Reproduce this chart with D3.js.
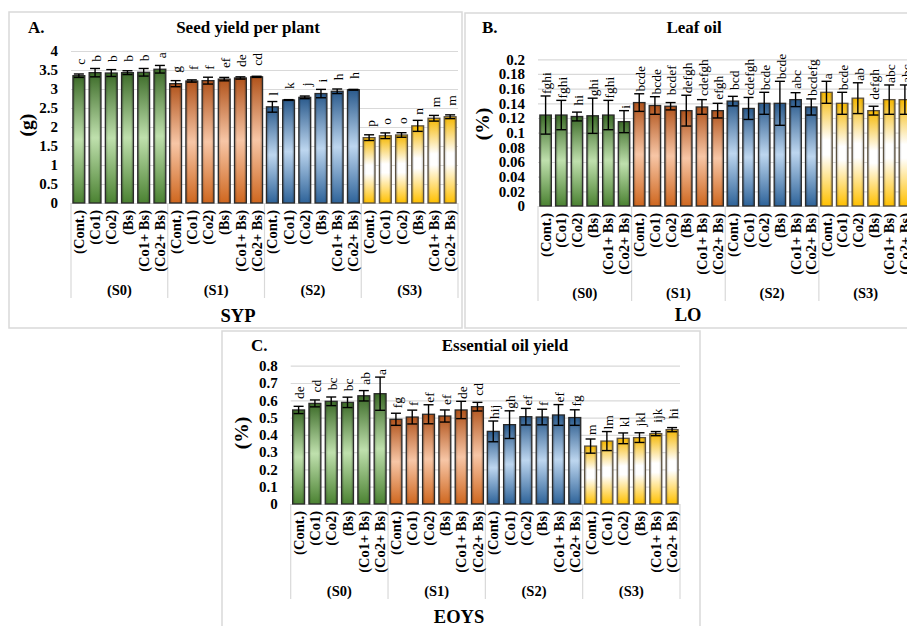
<!DOCTYPE html>
<html>
<head>
<meta charset="utf-8">
<script src="https://cdn.jsdelivr.net/npm/d3@7"></script>
<style>
  html, body { margin: 0; padding: 0; background: #fff; }
  svg { display: block; }
</style>
</head>
<body>
<svg id="chart" width="907" height="626"></svg>
<script>
// ---------------- DATA ----------------
const treatments = ["(Cont.)", "(Co1)", "(Co2)", "(Bs)", "(Co1+ Bs)", "(Co2+ Bs)"];
const salinityLevels = ["(S0)", "(S1)", "(S2)", "(S3)"];

// A. Seed yield per plant (g)
const sypMeans = [3.35, 3.43, 3.42, 3.43, 3.44, 3.52,
                  3.14, 3.21, 3.22, 3.26, 3.29, 3.32,
                  2.53, 2.71, 2.78, 2.88, 2.94, 2.98,
                  1.72, 1.77, 1.79, 2.03, 2.23, 2.27];
const sypErrors = [0.045, 0.11, 0.09, 0.05, 0.10, 0.10,
                   0.08, 0.03, 0.09, 0.045, 0.03, 0.015,
                   0.14, 0.01, 0.035, 0.11, 0.06, 0.01,
                   0.075, 0.075, 0.06, 0.145, 0.075, 0.05];
const sypLetters = ["c", "b", "b", "b", "b", "a",
                    "g", "f", "f", "ef", "de", "cd",
                    "l", "k", "j", "i", "h", "h",
                    "p", "o", "o", "n", "m", "m"];
const sypTicks = [0, 0.5, 1, 1.5, 2, 2.5, 3, 3.5, 4];

// B. Leaf oil (%)
const loMeans = [0.124, 0.124, 0.122, 0.123, 0.124, 0.115,
                 0.141, 0.137, 0.136, 0.130, 0.135, 0.130,
                 0.143, 0.133, 0.140, 0.140, 0.145, 0.135,
                 0.155, 0.140, 0.147, 0.130, 0.145, 0.145];
const loErrors = [0.026, 0.020, 0.006, 0.024, 0.020, 0.015,
                  0.012, 0.012, 0.005, 0.021, 0.010, 0.010,
                  0.0065, 0.015, 0.015, 0.030, 0.0095, 0.011,
                  0.015, 0.015, 0.021, 0.006, 0.020, 0.020];
const loLetters = ["fghi", "fghi", "hi", "ghi", "fghi", "i",
                   "bcde", "bcde", "bcdef", "defgh", "cdefgh", "efgh",
                   "bcd", "cdefgh", "bcde", "bcde", "abc", "bcdefg",
                   "a", "bcde", "ab", "defgh", "abc", "abc"];
const loTicks = [0, 0.02, 0.04, 0.06, 0.08, 0.1, 0.12, 0.14, 0.16, 0.18, 0.2];

// C. Essential oil yield (%)
const eoysMeans = [0.544, 0.582, 0.594, 0.588, 0.626, 0.638,
                   0.490, 0.503, 0.519, 0.509, 0.544, 0.563,
                   0.420, 0.459, 0.505, 0.503, 0.515, 0.500,
                   0.335, 0.364, 0.380, 0.384, 0.407, 0.430];
const eoysErrors = [0.021, 0.020, 0.025, 0.030, 0.030, 0.096,
                    0.035, 0.040, 0.055, 0.035, 0.050, 0.025,
                    0.060, 0.080, 0.048, 0.045, 0.060, 0.045,
                    0.041, 0.055, 0.031, 0.028, 0.012, 0.012];
const eoysLetters = ["de", "cd", "bc", "bc", "ab", "a",
                     "fg", "f", "ef", "ef", "de", "cd",
                     "hij", "gh", "ef", "f", "ef", "fg",
                     "m", "lm", "kl", "jkl", "ijk", "hi"];
const eoysTicks = [0, 0.1, 0.2, 0.3, 0.4, 0.5, 0.6, 0.7, 0.8];

// Group colour gradients (top, middle, bottom)
const groupGradients = [
  ["#3c6b28", "#bfe0ad", "#4b8232"],
  ["#b1531b", "#f7c6a6", "#cf671f"],
  ["#2a5a8c", "#bdd6ef", "#2e6399"],
  ["#f5b700", "#ffffff", "#ffc000"]
];

// ---------------- DRAW ----------------
const FONT = "'Liberation Serif', 'Times New Roman', serif";
const svg = d3.select("#chart");
svg.append("rect").attr("width", 907).attr("height", 626).attr("fill", "#fff");

const defs = svg.append("defs");
groupGradients.forEach((c, i) => {
  const lg = defs.append("linearGradient").attr("id", "grad" + i)
    .attr("x1", 0).attr("y1", 0).attr("x2", 0).attr("y2", 1);
  lg.append("stop").attr("offset", 0).attr("stop-color", c[0]);
  if (i === 3) {
    lg.append("stop").attr("offset", 0.42).attr("stop-color", c[1]);
    lg.append("stop").attr("offset", 0.55).attr("stop-color", c[1]);
  } else {
    lg.append("stop").attr("offset", 0.5).attr("stop-color", c[1]);
  }
  lg.append("stop").attr("offset", 1).attr("stop-color", c[2]);
});
const edge = defs.append("linearGradient").attr("id", "edgeShade")
  .attr("x1", 0).attr("y1", 0).attr("x2", 1).attr("y2", 0);
[[0, 0.28], [0.22, 0], [0.78, 0], [1, 0.28]].forEach(s =>
  edge.append("stop").attr("offset", s[0]).attr("stop-color", "#000").attr("stop-opacity", s[1]));

function fmt(v) { return String(+v.toFixed(3)); }

function drawPanel(p) {
  const g = svg.append("g");
  g.append("rect").attr("x", p.frame[0]).attr("y", p.frame[1])
    .attr("width", p.frame[2]).attr("height", p.frame[3])
    .attr("fill", "#fff").attr("stroke", "#d9d9d9").attr("stroke-width", 1.5);

  const y = d3.scaleLinear().domain([0, p.max]).range([p.zeroY, p.topY]);
  const xGroup = d3.scaleBand().domain(salinityLevels).range([p.left, p.right]);
  const xInner = d3.scaleBand().domain(treatments).range([0, xGroup.bandwidth()])
    .paddingInner(0.27).paddingOuter(0.12);

  // y axis with grid
  const ax = g.append("g").attr("transform", `translate(${p.left},0)`)
    .call(d3.axisLeft(y).tickValues(p.ticks).tickFormat(fmt)
      .tickSizeInner(-(p.right - p.left)).tickSizeOuter(0).tickPadding(p.tickPad));
  ax.select(".domain").remove();
  ax.selectAll(".tick line").attr("stroke", "#d9d9d9").attr("stroke-width", 1.2);
  ax.selectAll(".tick text").attr("font-family", FONT).attr("font-weight", "bold")
    .attr("font-size", p.tickSize).attr("fill", "#000");

  // separators below axis
  const seps = salinityLevels.map(s => xGroup(s)).concat([p.right]);
  g.selectAll(".sep").data(seps).join("line")
    .attr("x1", d => d).attr("x2", d => d)
    .attr("y1", p.zeroY).attr("y2", p.sepBottom)
    .attr("stroke", "#d9d9d9").attr("stroke-width", 1.2);

  const rows = salinityLevels.flatMap((s, i) => treatments.map((t, j) => ({
    s, t, i, v: p.means[i * 6 + j], e: p.errors[i * 6 + j], l: p.letters[i * 6 + j]
  })));
  const bx = d => xGroup(d.s) + xInner(d.t);
  const bw = xInner.bandwidth();

  g.selectAll(".bar").data(rows).join("rect")
    .attr("x", bx).attr("y", d => y(d.v)).attr("width", bw)
    .attr("height", d => y(0) - y(d.v))
    .attr("fill", d => `url(#grad${d.i})`);
  g.selectAll(".bar2").data(rows).join("rect")
    .attr("x", bx).attr("y", d => y(d.v)).attr("width", bw)
    .attr("height", d => y(0) - y(d.v))
    .attr("fill", "url(#edgeShade)")
    .attr("stroke", d => d.i === 3 ? "#5a5040" : "#2a2a2a").attr("stroke-width", 1.3);

  // error bars
  const cap = 5;
  const eg = g.selectAll(".err").data(rows).join("g");
  eg.append("line").attr("x1", d => bx(d) + bw / 2).attr("x2", d => bx(d) + bw / 2)
    .attr("y1", d => y(d.v - d.e)).attr("y2", d => y(d.v + d.e));
  eg.append("line").attr("x1", d => bx(d) + bw / 2 - cap).attr("x2", d => bx(d) + bw / 2 + cap)
    .attr("y1", d => y(d.v + d.e)).attr("y2", d => y(d.v + d.e));
  eg.append("line").attr("x1", d => bx(d) + bw / 2 - cap).attr("x2", d => bx(d) + bw / 2 + cap)
    .attr("y1", d => y(d.v - d.e)).attr("y2", d => y(d.v - d.e));
  eg.selectAll("line").attr("stroke", "#000").attr("stroke-width", 1.4);

  // significance letters
  g.selectAll(".lt").data(rows).join("text")
    .attr("transform", d => `translate(${bx(d) + bw / 2 + 1},${Math.min(y(d.v) - 11, y(d.v + d.e) - 2)}) rotate(-90)`)
    .attr("dy", "0.35em").attr("text-anchor", "start")
    .attr("font-family", FONT).attr("font-size", 13.5).attr("fill", "#000")
    .text(d => d.l);

  // category labels
  g.selectAll(".cat").data(rows).join("text")
    .attr("transform", d => `translate(${bx(d) + bw / 2},${p.zeroY + 7}) rotate(-90)`)
    .attr("dy", "0.35em").attr("text-anchor", "end")
    .attr("font-family", FONT).attr("font-weight", "bold").attr("font-size", 14.5).attr("fill", "#000")
    .text(d => d.t);

  // group labels
  g.selectAll(".grp").data(salinityLevels).join("text")
    .attr("x", d => xGroup(d) + xGroup.bandwidth() / 2).attr("y", p.groupY)
    .attr("text-anchor", "middle")
    .attr("font-family", FONT).attr("font-weight", "bold").attr("font-size", 14.5).attr("fill", "#000")
    .text(d => d);

  // titles
  g.append("text").attr("x", p.titleX).attr("y", p.titleY).attr("text-anchor", "middle")
    .attr("font-family", FONT).attr("font-weight", "bold").attr("font-size", 17).text(p.title);
  g.append("text").attr("x", p.letterX).attr("y", p.titleY)
    .attr("font-family", FONT).attr("font-weight", "bold").attr("font-size", 17).text(p.panel);
  g.append("text").attr("transform", `translate(${p.yLabX},${p.yLabY}) rotate(-90)`)
    .attr("text-anchor", "middle").attr("dy", "0.35em")
    .attr("font-family", FONT).attr("font-weight", "bold").attr("font-size", 19.5).text(p.yLabel);
  g.append("text").attr("x", p.xLabX).attr("y", p.xLabY).attr("text-anchor", "middle")
    .attr("font-family", FONT).attr("font-weight", "bold").attr("font-size", 18.5).text(p.xLabel);
}

drawPanel({
  frame: [9, 12, 453, 316], left: 71, right: 458, zeroY: 203, topY: 51, max: 4,
  ticks: sypTicks, tickPad: 13, tickSize: 15, sepBottom: 298, groupY: 295,
  means: sypMeans, errors: sypErrors, letters: sypLetters,
  title: "Seed yield per plant", panel: "A.", titleX: 248, titleY: 33, letterX: 28,
  yLabel: "(g)", yLabX: 26, yLabY: 125, xLabel: "SYP", xLabX: 238, xLabY: 322
});
drawPanel({
  frame: [465, 13, 460, 315], left: 538, right: 912.5, zeroY: 206, topY: 59.3, max: 0.2,
  ticks: loTicks, tickPad: 13, tickSize: 15, sepBottom: 301, groupY: 298,
  means: loMeans, errors: loErrors, letters: loLetters,
  title: "Leaf oil", panel: "B.", titleX: 694, titleY: 33, letterX: 482,
  yLabel: "(%)", yLabX: 482, yLabY: 124, xLabel: "LO", xLabX: 688, xLabY: 321
});
drawPanel({
  frame: [222, 331, 478, 320], left: 290.7, right: 680, zeroY: 504, topY: 365.7, max: 0.8,
  ticks: eoysTicks, tickPad: 13, tickSize: 15, sepBottom: 599, groupY: 596,
  means: eoysMeans, errors: eoysErrors, letters: eoysLetters,
  title: "Essential oil yield", panel: "C.", titleX: 505, titleY: 351, letterX: 251,
  yLabel: "(%)", yLabX: 241, yLabY: 433, xLabel: "EOYS", xLabX: 459, xLabY: 623
});
</script>
</body>
</html>
